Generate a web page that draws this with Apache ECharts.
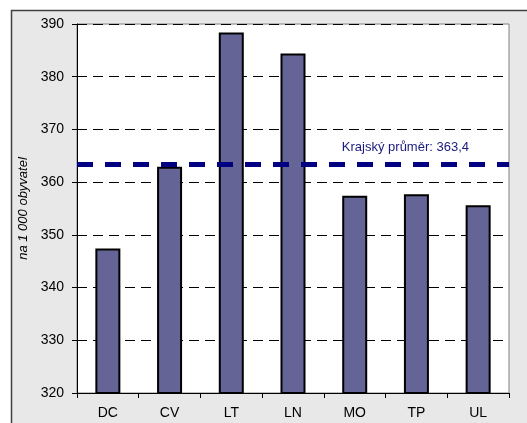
<!DOCTYPE html>
<html>
<head>
<meta charset="utf-8">
<script src="https://cdn.jsdelivr.net/npm/echarts@6/dist/echarts.min.js"></script>
<style>
  html, body { margin: 0; padding: 0; background: #fff; }
  #chart { width: 527px; height: 423px; }
</style>
</head>
<body>
<div id="chart"></div>
<script>
  // okresy a hodnoty na 1 000 obyvatel
  var categories = ['DC', 'CV', 'LT', 'LN', 'MO', 'TP', 'UL']
  var values = [347.4, 362.9, 388.4, 384.4, 357.4, 357.7, 355.6]
  var average = 363.4
  var yTicks = [320, 390, 10]

  var font = 'Liberation Sans, Arial, sans-serif'

  var myChart = echarts.init(document.getElementById('chart'), null, {renderer: 'canvas'})

  var option = {
    backgroundColor: '#fff',
    animation: false,
    graphic: [{
      type: 'rect',
      z: -10,
      shape: {x: 11.5, y: 10.5, width: 540, height: 440},
      style: {fill: '#e8e8e8', stroke: '#404040', lineWidth: 1.5}
    }],
    grid: {
      left: 77,
      right: 18,
      top: 24,
      bottom: 30,
      show: true,
      backgroundColor: '#fff',
      borderColor: '#808080',
      borderWidth: 1
    },
    xAxis: {
      type: 'category',
      data: categories,
      axisLine: {lineStyle: {color: '#000', width: 1}},
      axisTick: {show: true, length: 5, lineStyle: {color: '#000'}},
      axisLabel: {color: '#000', fontSize: 14, fontFamily: font, margin: 13}
    },
    yAxis: {
      type: 'value',
      min: yTicks[0],
      max: yTicks[1],
      interval: yTicks[2],
      name: 'na 1 000 obyvatel',
      nameLocation: 'middle',
      nameRotate: 90,
      nameGap: 47,
      nameTextStyle: {color: '#000', fontSize: 13, fontStyle: 'italic', fontFamily: font},
      axisLine: {show: true, lineStyle: {color: '#000', width: 1}},
      axisTick: {show: true, length: 5, lineStyle: {color: '#000'}},
      axisLabel: {color: '#000', fontSize: 14, fontFamily: font, margin: 13},
      splitLine: {show: true, lineStyle: {color: '#000', type: [10, 6], width: 1}}
    },
    series: [{
      type: 'bar',
      data: values,
      barWidth: 25,
      itemStyle: {color: '#646496', borderColor: '#000', borderWidth: 2},
      markLine: {
        symbol: 'none',
        silent: true,
        data: [{yAxis: average}],
        lineStyle: {color: '#000080', width: 5, type: [16, 12]},
        label: {
          show: true,
          position: 'insideEndTop',
          distance: [40, 10],
          formatter: 'Krajský průměr: 363,4',
          color: '#1a1a80',
          fontSize: 13,
          fontFamily: font
        }
      }
    }]
  }

  myChart.setOption(option)
</script>
</body>
</html>
